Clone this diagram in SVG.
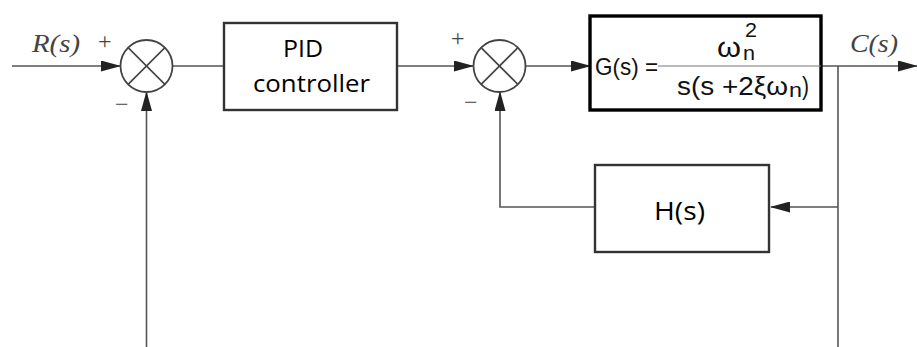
<svg xmlns="http://www.w3.org/2000/svg" width="917" height="347" viewBox="0 0 917 347">
<style>
.ln{stroke:#555;stroke-width:1.6;fill:none}
.box{stroke:#333;stroke-width:2.4;fill:#fff}
.gbox{stroke:#000;stroke-width:3.4;fill:none}
.sum{stroke:#444;stroke-width:1.8;fill:#fff}
.x{stroke:#444;stroke-width:1.6}
.ital{font-family:"Liberation Serif",serif;font-style:italic;font-size:26px;fill:#444}
.sign{font-family:"Liberation Serif",serif;font-size:24px;fill:#444}
.lab{font-family:"Open Sans","Liberation Sans",sans-serif;fill:#000}
.g{font-family:"Liberation Sans",Arial,sans-serif;fill:#111}
</style>
<defs>
<marker id="ah" markerWidth="20" markerHeight="11" refX="19" refY="5.5" orient="auto" markerUnits="userSpaceOnUse">
<path d="M0,0 L20,5.5 L0,11 Z" fill="#222"/>
</marker>
</defs>
<rect width="917" height="347" fill="#fff"/>
<g id="connectors">
<line class="ln" x1="12" y1="66" x2="120" y2="66" marker-end="url(#ah)"/>
<line class="ln" x1="172" y1="66" x2="224" y2="66"/>
<line class="ln" x1="397" y1="66" x2="473" y2="66" marker-end="url(#ah)"/>
<line class="ln" x1="526" y1="66" x2="590" y2="66" marker-end="url(#ah)"/>
<line class="ln" x1="822" y1="66" x2="917" y2="66" marker-end="url(#ah)"/>
<line class="ln" x1="838" y1="66" x2="838" y2="347"/>
<line class="ln" x1="838" y1="207" x2="771" y2="207" marker-end="url(#ah)"/>
<polyline class="ln" points="595,207 500,207 500,92" marker-end="url(#ah)"/>
<line class="ln" x1="146.5" y1="347" x2="146.5" y2="92" marker-end="url(#ah)"/>
</g>
<g id="rs-label"><text class="ital" x="32" y="52" textLength="48" lengthAdjust="spacingAndGlyphs">R(s)</text></g>
<g id="sum1">
<circle class="sum" cx="146.5" cy="66" r="26"/>
<line class="x" x1="128.1" y1="47.6" x2="164.9" y2="84.4"/>
<line class="x" x1="164.9" y1="47.6" x2="128.1" y2="84.4"/>
<text class="sign" x="98" y="49">+</text>
<text class="sign" x="115" y="112">−</text>
</g>
<g id="pid">
<rect class="box" x="224" y="23" width="173" height="87"/>
<text class="lab" x="283" y="57" font-size="24" textLength="40" lengthAdjust="spacingAndGlyphs">PID</text>
<text class="lab" x="253" y="92" font-size="24" textLength="117" lengthAdjust="spacingAndGlyphs">controller</text>
</g>
<g id="sum2">
<circle class="sum" cx="499.5" cy="66" r="26"/>
<line class="x" x1="481.1" y1="47.6" x2="517.9" y2="84.4"/>
<line class="x" x1="517.9" y1="47.6" x2="481.1" y2="84.4"/>
<text class="sign" x="451" y="46">+</text>
<text class="sign" x="464" y="110">−</text>
</g>
<g id="plant">
<rect class="gbox" x="590" y="16" width="231" height="94"/>
<line x1="658" y1="66" x2="821" y2="66" stroke="#777" stroke-width="1"/>
<text class="g" x="595" y="75" font-size="24" textLength="63" lengthAdjust="spacingAndGlyphs">G(s) =</text>
<text class="g" x="717" y="57" font-size="28" textLength="24" lengthAdjust="spacingAndGlyphs">ω</text>
<text class="g" x="743" y="60" font-size="20" textLength="12" lengthAdjust="spacingAndGlyphs">n</text>
<text class="g" x="745" y="37" font-size="21" textLength="12" lengthAdjust="spacingAndGlyphs">2</text>
<text class="g" x="677" y="95" font-size="26" textLength="111" lengthAdjust="spacingAndGlyphs">s(s +2ξω</text>
<text class="g" x="789" y="97" font-size="21" textLength="13" lengthAdjust="spacingAndGlyphs">n</text>
<text class="g" x="802" y="95" font-size="26" textLength="7" lengthAdjust="spacingAndGlyphs">)</text>
</g>
<g id="cs-label"><text class="ital" x="850" y="52" textLength="48" lengthAdjust="spacingAndGlyphs">C(s)</text></g>
<g id="feedback">
<rect class="box" x="595" y="165" width="174" height="87"/>
<text class="lab" x="654" y="220" font-size="25" textLength="51" lengthAdjust="spacingAndGlyphs">H(s)</text>
</g>
</svg>
